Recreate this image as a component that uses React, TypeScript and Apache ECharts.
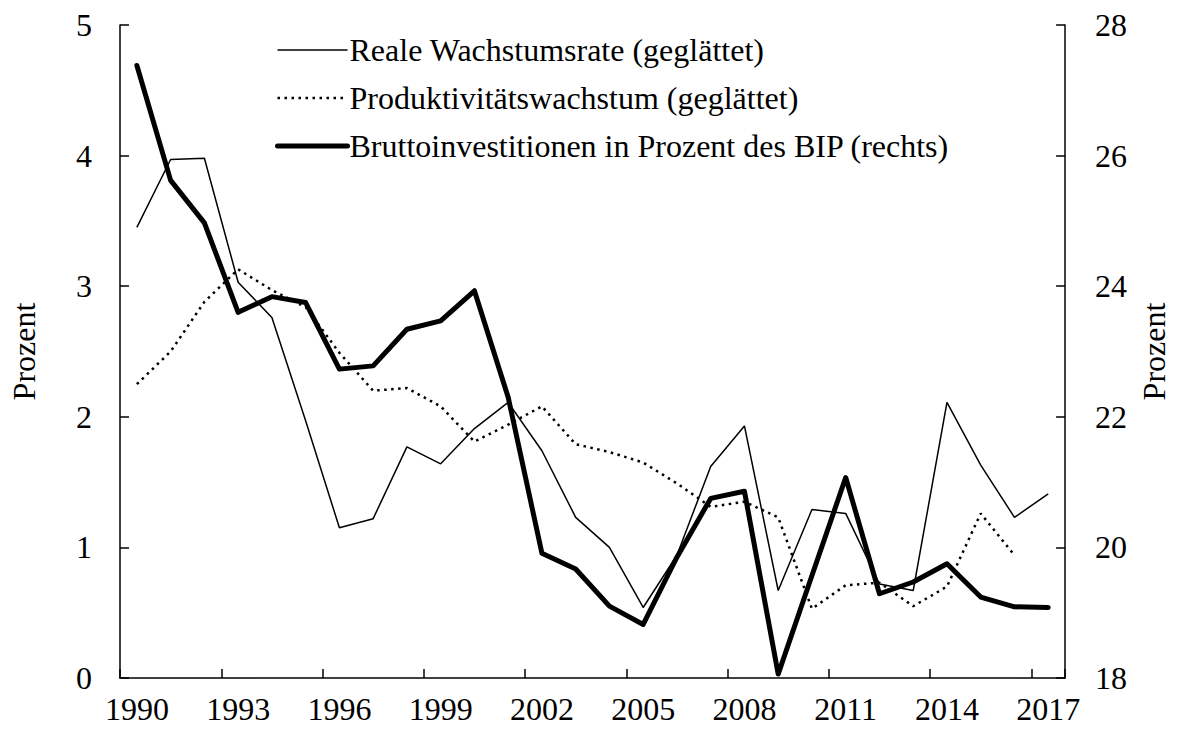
import React, { useEffect, useRef } from "react";
import * as echarts from "echarts";

const years = [
  "1990", "1991", "1992", "1993", "1994", "1995", "1996", "1997", "1998", "1999",
  "2000", "2001", "2002", "2003", "2004", "2005", "2006", "2007", "2008", "2009",
  "2010", "2011", "2012", "2013", "2014", "2015", "2016", "2017",
];

const realGrowth = [
  3.45, 3.97, 3.98, 3.03, 2.76, 1.97, 1.15, 1.22, 1.77, 1.64,
  1.91, 2.11, 1.74, 1.23, 1.0, 0.54, 0.94, 1.62, 1.93, 0.67,
  1.29, 1.26, 0.72, 0.67, 2.11, 1.63, 1.23, 1.41,
];

const productivityGrowth = [
  2.25, 2.5, 2.88, 3.13, 2.97, 2.84, 2.49, 2.2, 2.22, 2.08,
  1.81, 1.94, 2.08, 1.79, 1.73, 1.65, 1.49, 1.31, 1.35, 1.23,
  0.53, 0.71, 0.73, 0.55, 0.7, 1.26, 0.94, null,
];

const investmentShare = [
  27.38, 25.62, 24.97, 23.6, 23.84, 23.75, 22.73, 22.78, 23.34, 23.47,
  23.93, 22.3, 19.91, 19.67, 19.1, 18.82, 19.85, 20.75, 20.86, 18.06,
  19.57, 21.07, 19.29, 19.47, 19.75, 19.24, 19.09, 19.08,
];

const seriesNames = [
  "Reale Wachstumsrate (geglättet)",
  "Produktivitätswachstum (geglättet)",
  "Bruttoinvestitionen in Prozent des BIP (rechts)",
];

const FONT = "'Liberation Serif', 'Times New Roman', serif";

export default function App() {
  const ref = useRef<HTMLDivElement>(null);

  useEffect(() => {
    if (!ref.current) return;
    const chart = echarts.init(ref.current, undefined, { renderer: "svg" });
    const txt = { color: "#000", fontFamily: FONT, fontSize: 32 };
    const thin = { color: "#000", width: 1.5, type: "solid" as const };
    const dotted = { color: "#000", width: 2.5, type: [2.5, 4.5], cap: "butt" as const };
    const thick = { color: "#000", width: 5, type: "solid" as const, join: "round" as const, cap: "round" as const };
    chart.setOption({
      animation: false,
      backgroundColor: "#fff",
      textStyle: { fontFamily: FONT, color: "#000" },
      grid: { left: 118, right: 107, top: 25, bottom: 53, containLabel: false },
      legend: {
        orient: "vertical",
        left: 275,
        top: 34,
        itemWidth: 70,
        itemHeight: 31,
        itemGap: 16,
        padding: 0,
        selectedMode: false,
        itemStyle: { opacity: 0, color: "transparent", borderWidth: 0 },
        textStyle: { ...txt, lineHeight: 31, padding: [0, 0, 0, -3] },
        data: [
          { name: seriesNames[0], lineStyle: thin },
          { name: seriesNames[1], lineStyle: dotted },
          { name: seriesNames[2], lineStyle: thick },
        ],
      },
      xAxis: {
        type: "category",
        data: years,
        boundaryGap: true,
        axisLine: { show: true, lineStyle: { color: "#000", width: 1.5 } },
        axisTick: { show: true, inside: true, interval: 2, length: 9, lineStyle: { color: "#000", width: 1.5 } },
        axisLabel: { ...txt, interval: 2, margin: 15 },
        splitLine: { show: false },
      },
      yAxis: [
        {
          type: "value",
          min: 0,
          max: 5,
          interval: 1,
          position: "left",
          name: "Prozent",
          nameLocation: "middle",
          nameRotate: 90,
          nameGap: 80,
          nameTextStyle: { ...txt },
          axisLine: { show: true, lineStyle: { color: "#000", width: 1.5 } },
          axisTick: { show: true, inside: true, length: 9, lineStyle: { color: "#000", width: 1.5 } },
          axisLabel: { ...txt, margin: 28 },
          splitLine: { show: false },
        },
        {
          type: "value",
          min: 18,
          max: 28,
          interval: 2,
          position: "right",
          name: "Prozent",
          nameLocation: "middle",
          nameRotate: 90,
          nameGap: 72,
          nameTextStyle: { ...txt },
          axisLine: { show: true, lineStyle: { color: "#000", width: 1.5 } },
          axisTick: { show: true, inside: true, length: 9, lineStyle: { color: "#000", width: 1.5 } },
          axisLabel: { ...txt, margin: 30 },
          splitLine: { show: false },
        },
      ],
      series: [
        {
          name: seriesNames[0],
          type: "line",
          yAxisIndex: 0,
          data: realGrowth,
          symbol: "none",
          color: "#000",
          lineStyle: thin,
        },
        {
          name: seriesNames[1],
          type: "line",
          yAxisIndex: 0,
          data: productivityGrowth,
          symbol: "none",
          color: "#000",
          lineStyle: dotted,
        },
        {
          name: seriesNames[2],
          type: "line",
          yAxisIndex: 1,
          data: investmentShare,
          symbol: "none",
          color: "#000",
          lineStyle: thick,
        },
      ],
    });
    return () => chart.dispose();
  }, []);

  return <div ref={ref} style={{ width: 1178, height: 731, position: "absolute", left: 0, top: 0 }} />;
}
